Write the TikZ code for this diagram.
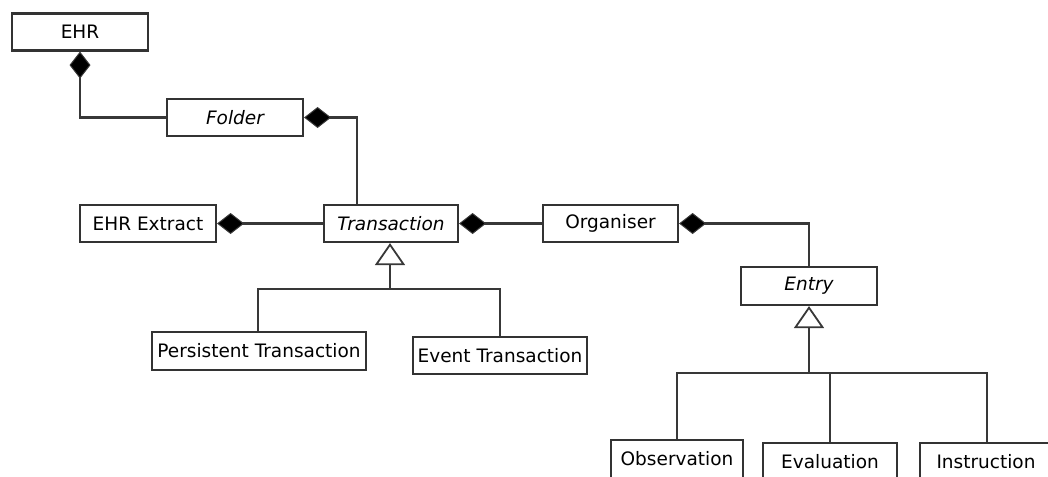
\documentclass[tikz,border=0pt]{standalone}
\usepackage{fontspec}
\setmainfont{DejaVu Sans}
\usetikzlibrary{arrows.meta}
\begin{document}
\begin{tikzpicture}[x=1pt,y=-1pt,
  cls/.style={draw=black!80, line width=2.2pt, fill=white, inner sep=0pt,
    minimum height=37pt, font=\fontsize{18.5}{18.5}\selectfont},
  link/.style={draw=black!78, line width=2.6pt, line join=miter},
  comp/.style={link, {Diamond[length=27pt,width=21pt,fill=black,line width=1pt]}-},
  inh/.style={link, -{Triangle[open,length=22pt,width=30pt,fill=white,line width=1.8pt]}}]
\useasboundingbox (0,0) rectangle (1048,476);
% classes
\node[cls, minimum width=136pt] (ehr) at (80,32) {EHR};
\node[cls, minimum width=136pt] (folder) at (235,117.5) {\itshape Folder};
\node[cls, minimum width=136pt] (extract) at (148,223.5) {EHR Extract};
\node[cls, minimum width=134pt] (trans) at (391,223.5) {\itshape Transaction};
\node[cls, minimum width=135pt] (org) at (610.5,223.5) {Organiser};
\node[cls, minimum width=136pt, minimum height=38pt] (entry) at (809,286) {\itshape Entry};
\node[cls, minimum width=214pt, minimum height=38pt] (pers) at (259,351) {Persistent Transaction};
\node[cls, minimum width=174pt] (event) at (500,355.5) {Event Transaction};
\node[cls, minimum width=132pt, minimum height=38pt] (obs) at (677,459) {Observation};
\node[cls, minimum width=134pt, minimum height=38pt] (eval) at (830,462) {Evaluation};
\node[cls, minimum width=132pt, minimum height=38pt] (instr) at (986,462) {Instruction};
% compositions
\draw[comp] (ehr.south) |- (folder.west);
\coordinate (fjoin) at (357,117.5);
\draw[comp] (folder.east) -- (fjoin) -- (fjoin |- trans.north);
\draw[comp] (extract.east) -- (trans.west);
\draw[comp] (trans.east) -- (org.west);
\draw[comp] (org.east) -| (entry.north);
% generalisation of Transaction
\coordinate (tbus) at (390,289);
\coordinate (tl) at (258,289);
\coordinate (tr) at (500,289);
\draw[link] (tl |- pers.north) -- (tl) -- (tr) -- (tr |- event.north);
\draw[inh] (tbus) -- (tbus |- trans.south);
% generalisation of Entry
\coordinate (ebus) at (809,373);
\coordinate (el) at (677,373);
\coordinate (er) at (987,373);
\draw[link] (el |- obs.north) -- (el) -- (er) -- (er |- instr.north);
\draw[link] (eval.north |- ebus) -- (eval.north);
\draw[inh] (ebus) -- (entry.south);
\end{tikzpicture}
\end{document}
